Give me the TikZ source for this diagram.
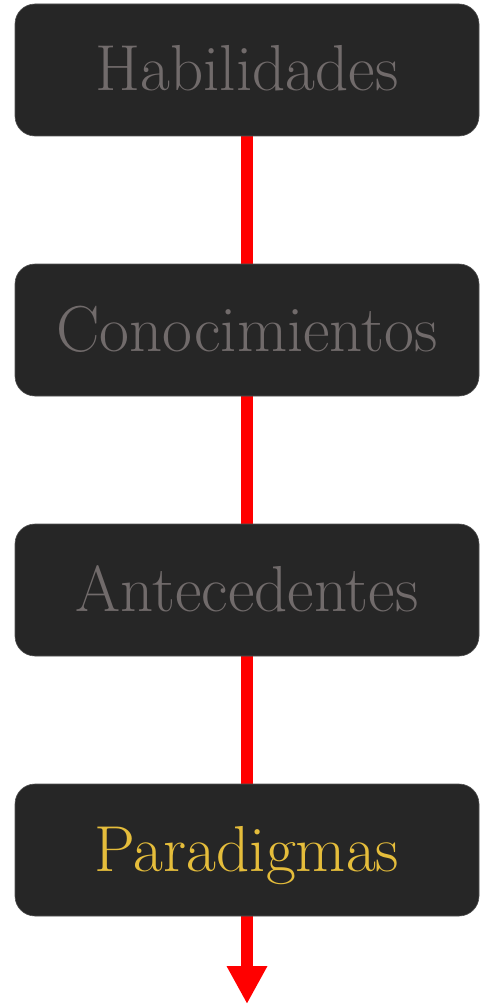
\documentclass[tikz,border=0pt]{standalone}
\usetikzlibrary{arrows.meta,backgrounds}
\definecolor{boxbg}{HTML}{262626}
\definecolor{txtgray}{HTML}{716B6B}
\definecolor{txtgold}{HTML}{E5BD3B}
\definecolor{redline}{HTML}{FF0000}
\tikzset{
  stagebox/.style={fill=boxbg, draw=boxbg!80!white, line width=0.6pt, rounded corners=20pt, minimum width=464pt, minimum height=132pt, inner sep=0pt},
  stagetext/.style={anchor=base, inner sep=0pt, font=\fontsize{65}{65}\selectfont},
  link/.style={draw=redline, line width=12.5pt},
  lastlink/.style={link, -{Triangle[width=38pt,length=38pt]}}
}
\begin{document}
\begin{tikzpicture}[x=1pt,y=-1pt]
\useasboundingbox (0,0) rectangle (479,1006);
\node[stagebox] (b1) at (247,70) {};
\node[stagebox] (b2) at (247,330) {};
\node[stagebox] (b3) at (247,590) {};
\node[stagebox] (b4) at (247,850) {};
\coordinate (end) at (247,1004);
\begin{scope}[on background layer]
\draw[link] (b1.south) -- (b2.north);
\draw[link] (b2.south) -- (b3.north);
\draw[link] (b3.south) -- (b4.north);
\draw[lastlink] (b4.south) -- (end);
\end{scope}
\node[stagetext, text=txtgray] (t1) at (247,91) {Habilidades};
\node[stagetext, text=txtgray] (t2) at (247,351) {Conocimientos};
\node[stagetext, text=txtgray] (t3) at (247,611) {Antecedentes};
\node[stagetext, text=txtgold] (t4) at (247,871) {Paradigmas};
\end{tikzpicture}
\end{document}
